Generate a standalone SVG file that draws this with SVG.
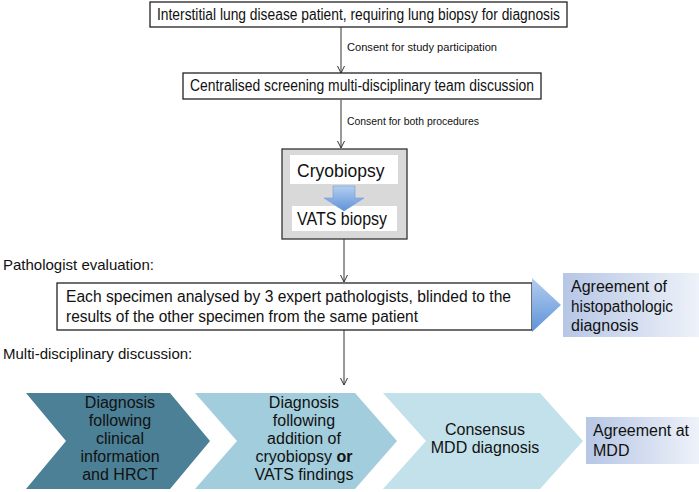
<svg xmlns="http://www.w3.org/2000/svg" width="699" height="492" viewBox="0 0 699 492">
<defs>
<style>
.t{font-family:"Liberation Sans",Arial,sans-serif;fill:#111;}
.box{fill:#fff;stroke:#222;stroke-width:1.3;}
.conn{stroke:#333;stroke-width:1;fill:none;}
.lbl{font-size:10.5px;}
.m{font-size:15px;}
.c{font-size:16px;text-anchor:middle;}
</style>
<marker id="ah" markerWidth="10" markerHeight="10" refX="9" refY="5" orient="auto" markerUnits="userSpaceOnUse">
<path d="M2,1.5 L9,5 L2,8.5" fill="none" stroke="#333" stroke-width="1"/>
</marker>
<linearGradient id="gBlue" x1="0" y1="0" x2="0" y2="1">
<stop offset="0" stop-color="#b4cdf0"/>
<stop offset="1" stop-color="#5e93d8"/>
</linearGradient>
<linearGradient id="gAgree" x1="0" y1="0" x2="1" y2="0">
<stop offset="0" stop-color="#b6c6e5"/>
<stop offset="1" stop-color="#eef2f9"/>
</linearGradient>
</defs>

<g id="connectors">
<line class="conn" x1="341" y1="27" x2="341" y2="73" marker-end="url(#ah)"/>
<text class="t lbl" x="347" y="51" textLength="150" lengthAdjust="spacingAndGlyphs">Consent for study participation</text>
<line class="conn" x1="341" y1="100" x2="341" y2="148" marker-end="url(#ah)"/>
<text class="t lbl" x="347" y="125" textLength="132" lengthAdjust="spacingAndGlyphs">Consent for both procedures</text>
<line class="conn" x1="344" y1="239" x2="344" y2="282" marker-end="url(#ah)"/>
<line class="conn" x1="344" y1="330" x2="344" y2="385" marker-end="url(#ah)"/>
</g>

<g id="n1">
<rect class="box" x="150" y="2" width="417" height="25"/>
<text class="t c" x="358.5" y="20" textLength="403" lengthAdjust="spacingAndGlyphs">Interstitial lung disease patient, requiring lung biopsy for diagnosis</text>
</g>

<g id="n2">
<rect class="box" x="183" y="73" width="358" height="26"/>
<text class="t c" x="362" y="91" textLength="344" lengthAdjust="spacingAndGlyphs">Centralised screening multi-disciplinary team discussion</text>
</g>

<g id="n3">
<rect x="282" y="149" width="125" height="90" fill="#d9d9d9" stroke="#333" stroke-width="1.3"/>
<rect x="290" y="155" width="108" height="29" fill="#fff"/>
<rect x="292" y="206" width="105" height="25" fill="#fff"/>
<text class="t" x="297" y="177" font-size="17.5">Cryobiopsy</text>
<path d="M333,186 L355,186 L355,198 L364,198 L344,211 L324,198 L333,198 Z" fill="url(#gBlue)" stroke="#6f9bd6" stroke-width="0.6"/>
<text class="t" x="297" y="225" font-size="17.5" textLength="90" lengthAdjust="spacingAndGlyphs">VATS biopsy</text>
</g>

<text class="t m" x="3" y="270">Pathologist evaluation:</text>

<g id="n4">
<rect class="box" x="57" y="283" width="475" height="47"/>
<text class="t" x="66" y="302" font-size="16" textLength="445" lengthAdjust="spacingAndGlyphs">Each specimen analysed by 3 expert pathologists, blinded to the</text>
<text class="t" x="66" y="322" font-size="16" textLength="352" lengthAdjust="spacingAndGlyphs">results of the other specimen from the same patient</text>
</g>

<g id="n5">
<path d="M532,278 L561,305 L532,332 Z" fill="url(#gBlue)"/>
<rect x="563" y="273" width="136" height="64" fill="url(#gAgree)"/>
<text class="t" x="571" y="292" font-size="16">Agreement of</text>
<text class="t" x="571" y="312" font-size="16" textLength="102" lengthAdjust="spacingAndGlyphs">histopathologic</text>
<text class="t" x="571" y="331" font-size="16">diagnosis</text>
</g>

<text class="t m" x="3" y="359">Multi-disciplinary discussion:</text>

<g id="n6">
<path d="M26,393 L170,393 L210,441 L170,489 L26,489 L66,441 Z" fill="#4b8096"/>
<text class="t c" x="120" y="408">Diagnosis</text>
<text class="t c" x="120" y="426">following</text>
<text class="t c" x="120" y="444">clinical</text>
<text class="t c" x="120" y="462">information</text>
<text class="t c" x="120" y="480">and HRCT</text>
</g>

<g id="n7">
<path d="M195,393 L355,393 L397,441 L355,489 L195,489 L237,441 Z" fill="#a2cddc"/>
<text class="t c" x="304" y="408">Diagnosis</text>
<text class="t c" x="304" y="426">following</text>
<text class="t c" x="304" y="444">addition of</text>
<text class="t c" x="304" y="462">cryobiopsy <tspan font-weight="bold">or</tspan></text>
<text class="t c" x="304" y="480">VATS findings</text>
</g>

<g id="n8">
<path d="M383,393 L540,393 L583,441 L540,489 L383,489 L426,441 Z" fill="#c3e1ea"/>
<text class="t c" x="485" y="435">Consensus</text>
<text class="t c" x="485" y="453">MDD diagnosis</text>
</g>

<g id="n9">
<rect x="586" y="417" width="113" height="47" fill="url(#gAgree)"/>
<text class="t" x="593" y="436" font-size="16">Agreement at</text>
<text class="t" x="593" y="456" font-size="16">MDD</text>
</g>
</svg>
